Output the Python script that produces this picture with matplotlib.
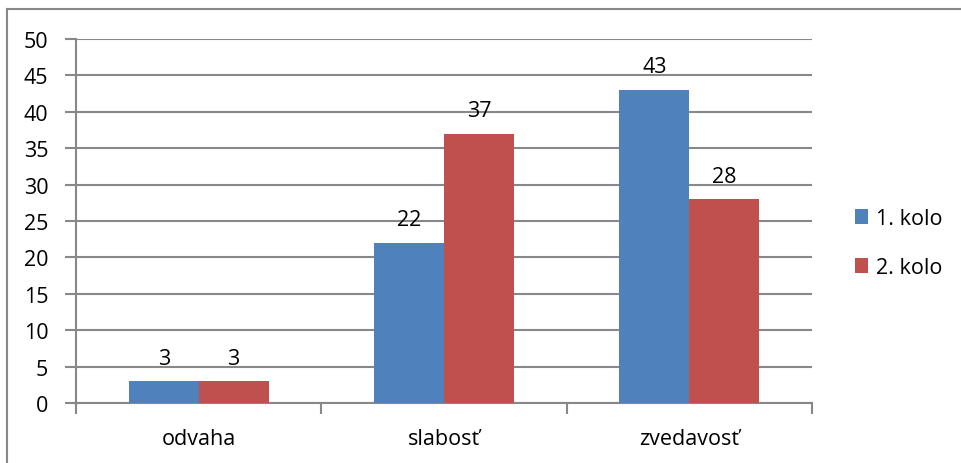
import numpy as np
import matplotlib.pyplot as plt
from matplotlib.lines import Line2D

# hodnoty z grafu
kategorie = ['odvaha', 'slabosť', 'zvedavosť']
kolo1 = [3, 22, 43]
kolo2 = [3, 37, 28]
serie = ['1. kolo', '2. kolo']

modra = '#4F81BD'
cervena = '#C0504D'
siva = '#888888'

plt.rcParams['font.family'] = ['Open Sans', 'DejaVu Sans']
fs = 15.5

fig = plt.figure(figsize=(9.61, 4.64), dpi=100)
ax = fig.add_axes([76 / 961, 1 - 404 / 464, 736 / 961, 364 / 464])

x = np.arange(len(kategorie))
w = 0.285
b1 = ax.bar(x - w / 2, kolo1, w, color=modra, label=serie[0], zorder=3)
b2 = ax.bar(x + w / 2, kolo2, w, color=cervena, label=serie[1], zorder=3)

for bars in (b1, b2):
    ax.bar_label(bars, padding=9, fontsize=fs)

ax.set_xlim(-0.5, len(kategorie) - 0.5)
ax.set_ylim(0, 50)
ax.set_yticks(np.arange(0, 51, 5))
ax.set_xticks(x)
ax.set_xticklabels(kategorie)

# oddelovacie tick-y medzi kategoriami
ax.set_xticks(np.arange(-0.5, len(kategorie)), minor=True)
ax.tick_params(axis='x', which='major', length=0, pad=18, labelsize=fs)
ax.tick_params(axis='x', which='minor', length=8, color=siva, width=1.5)
ax.tick_params(axis='y', length=8, color=siva, width=1.5, labelsize=fs, pad=12)

ax.yaxis.grid(True, color=siva, linewidth=1.5, zorder=0)
ax.set_axisbelow(True)
for s in ('top', 'right'):
    ax.spines[s].set_visible(False)
for s in ('left', 'bottom'):
    ax.spines[s].set_color(siva)
    ax.spines[s].set_linewidth(1.5)

ax.legend(loc='center left', bbox_to_anchor=(1.032, 0.44), frameon=False,
          fontsize=fs, handlelength=0.6, handleheight=0.7, handletextpad=0.4,
          labelspacing=1.3)

# ramik okolo grafu (vidno len lavu a hornu stranu)
fig.add_artist(Line2D([7 / 961, 7 / 961], [0, 1 - 10 / 464], color=siva, lw=1.5))
fig.add_artist(Line2D([7 / 961, 1], [1 - 10 / 464, 1 - 10 / 464], color=siva, lw=1.5))

fig.savefig('out.png', dpi=100)
